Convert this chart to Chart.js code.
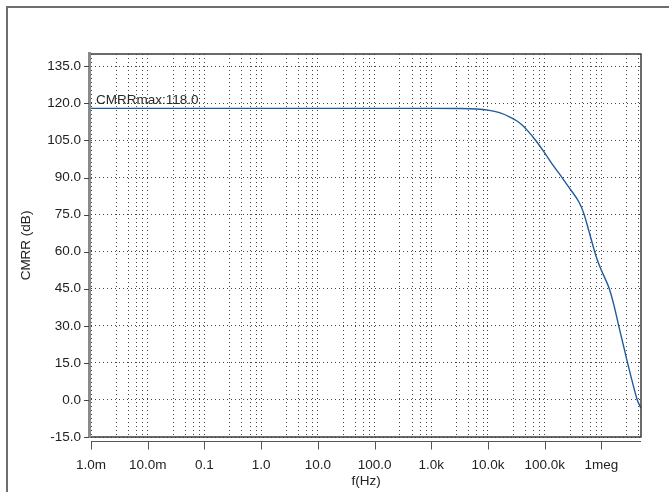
<!DOCTYPE html>
<html>
<head>
<meta charset="utf-8">
<script src="https://cdn.jsdelivr.net/npm/chart.js@4/dist/chart.umd.min.js"></script>
<style>
  html, body { margin: 0; padding: 0; background: #ffffff; }
  #wrap { position: relative; width: 669px; height: 492px; }
</style>
</head>
<body>
<div id="wrap"><canvas id="c" width="669" height="492"></canvas></div>
<script>
// Frequency sweep (Hz) and common-mode rejection ratio (dB)
const freqHz = [1e-3, 1e3, 3.2e3, 6.3e3, 1e4, 1.6e4, 2.5e4, 3.2e4, 4e4, 5e4,
                6.8e4, 1e5, 1.4e5, 2e5, 2.8e5, 4e5, 4.9e5, 6e5, 7.2e5, 8.3e5,
                1e6, 1.18e6, 1.38e6, 1.66e6, 2e6, 2.9e6, 3.5e6, 4.3e6, 5e6];
const cmrrDb = [118.0, 118.0, 117.95, 117.75, 117.3, 116.3, 114.4, 113.0, 111.3, 109.0,
                105.3, 100.0, 95.0, 90.2, 85.4, 80.2, 75.5, 68.5, 62.0, 57.2,
                52.5, 48.8, 45.0, 38.5, 30.5, 15.0, 7.5, 0.0, -3.3];

// Axis ticks
const yTicks = [-15, 0, 15, 30, 45, 60, 75, 90, 105, 120, 135];
const xMajorTicks = [1e-3, 1e-2, 1e-1, 1, 10, 100, 1e3, 1e4, 1e5, 1e6];
const xMajorLabels = ['1.0m', '10.0m', '0.1', '1.0', '10.0', '100.0', '1.0k', '10.0k', '100.0k', '1meg'];
// decade subdivisions (multipliers of the decade start)
const xMinorSteps = [2.8, 4.6, 6.4, 8.2];

const cmrrMax = 118.0;
const markerText = 'CMRRmax:' + cmrrMax.toFixed(1);

const FONT = '"Liberation Sans", Arial, sans-serif';
const FONT_SIZE = 13.5;

const X_MAX = 5e6;
const xGridTicks = [];
xMajorTicks.forEach(function (d) {
  xGridTicks.push(d);
  xMinorSteps.forEach(function (m) { if (d * m <= X_MAX) xGridTicks.push(d * m); });
});

function majorIndex(v) {
  return xMajorTicks.findIndex(function (d) { return Math.abs(v / d - 1) < 1e-9; });
}

const frame = {
  id: 'frame',
  afterDraw(chart) {
    const ctx = chart.ctx;
    const a = chart.chartArea;
    const xs = chart.scales.x, ys = chart.scales.y;
    ctx.save();

    // outer window frame
    ctx.strokeStyle = '#6e6e6e';
    ctx.lineWidth = 2;
    ctx.beginPath();
    ctx.moveTo(7, 492); ctx.lineTo(7, 7); ctx.lineTo(669, 7);
    ctx.stroke();

    // plot box
    ctx.strokeStyle = '#3a3a3a';
    ctx.lineWidth = 1.5;
    ctx.beginPath();
    ctx.moveTo(a.left, a.top); ctx.lineTo(a.right, a.top);
    ctx.lineTo(a.right, a.bottom); ctx.lineTo(a.left, a.bottom);
    ctx.stroke();

    // left axis rail
    ctx.strokeStyle = '#8a8a8a';
    ctx.lineWidth = 3;
    ctx.beginPath();
    ctx.moveTo(a.left - 1.5, a.top - 2);
    ctx.lineTo(a.left - 1.5, a.bottom + 1);
    ctx.stroke();

    // y tick marks
    ctx.strokeStyle = '#444';
    ctx.lineWidth = 1;
    yTicks.forEach(function (v) {
      const y = Math.round(ys.getPixelForValue(v)) + 0.5;
      ctx.beginPath();
      ctx.moveTo(a.left - 7, y); ctx.lineTo(a.left - 2, y);
      ctx.stroke();
    });

    // x axis rail below the box with major tick marks
    const axY = Math.round(a.bottom) + 4.5;
    ctx.strokeStyle = '#555';
    ctx.lineWidth = 1;
    ctx.beginPath();
    ctx.moveTo(a.left, axY); ctx.lineTo(a.right, axY);
    ctx.stroke();
    xMajorTicks.forEach(function (v) {
      const x = Math.round(xs.getPixelForValue(v)) + 0.5;
      ctx.beginPath();
      ctx.moveTo(x, axY); ctx.lineTo(x, axY + 8);
      ctx.stroke();
    });

    // axis titles
    ctx.fillStyle = '#222';
    ctx.font = FONT_SIZE + 'px ' + FONT;
    ctx.textAlign = 'center';
    ctx.textBaseline = 'middle';
    ctx.fillText('f(Hz)', (a.left + a.right) / 2, 481);
    ctx.save();
    ctx.translate(26, (a.top + a.bottom) / 2);
    ctx.rotate(-Math.PI / 2);
    ctx.fillText('CMRR (dB)', 0, 0);
    ctx.restore();

    // maximum marker text
    ctx.fillStyle = '#2a2a2a';
    ctx.textAlign = 'left';
    ctx.textBaseline = 'alphabetic';
    ctx.fillText(markerText, xs.getPixelForValue(freqHz[0]) + 5, ys.getPixelForValue(cmrrMax) - 4);

    ctx.restore();
  }
};

const points = freqHz.map(function (f, i) { return { x: f, y: cmrrDb[i] }; });

new Chart(document.getElementById('c'), {
  type: 'line',
  data: {
    datasets: [{
      data: points,
      borderColor: '#1f5b9c',
      borderWidth: 1.4,
      pointRadius: 0,
      fill: false,
      cubicInterpolationMode: 'monotone'
    }]
  },
  options: {
    responsive: false,
    animation: false,
    events: [],
    layout: { padding: { top: 54, right: 28, left: 0, bottom: 0 } },
    plugins: { legend: { display: false }, tooltip: { enabled: false } },
    scales: {
      x: {
        type: 'logarithmic',
        min: 1e-3,
        max: X_MAX,
        afterBuildTicks(scale) {
          scale.ticks = xGridTicks.map(function (v) { return { value: v }; });
        },
        afterFit(scale) { scale.height = 55; },
        border: { display: false, dash: [1, 3] },
        grid: { drawTicks: false, lineWidth: 1, color: '#444' },
        ticks: {
          autoSkip: false,
          maxRotation: 0,
          padding: 20,
          color: '#222',
          font: { family: FONT, size: FONT_SIZE },
          callback(v) {
            const i = majorIndex(v);
            return i >= 0 ? xMajorLabels[i] : '';
          }
        }
      },
      y: {
        type: 'linear',
        min: -15,
        max: 140,
        afterBuildTicks(scale) {
          scale.ticks = yTicks.map(function (v) { return { value: v }; });
        },
        afterFit(scale) { scale.width = 91; },
        border: { display: false, dash: [1, 3] },
        grid: { drawTicks: false, lineWidth: 1, color: '#444' },
        ticks: {
          padding: 10,
          color: '#222',
          font: { family: FONT, size: FONT_SIZE },
          callback(v) { return Number(v).toFixed(1); }
        }
      }
    }
  },
  plugins: [frame]
});
</script>
</body>
</html>
